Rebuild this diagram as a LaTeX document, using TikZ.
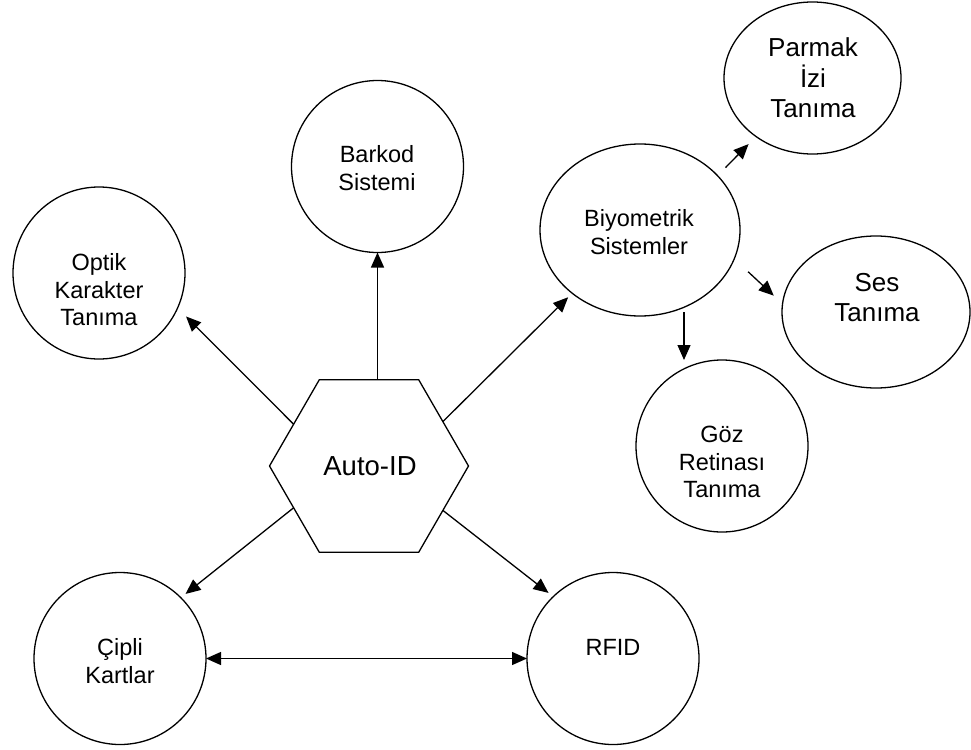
\documentclass[tikz,border=0pt]{standalone}
\usepackage{fontspec}
\setmainfont{Liberation Sans}
\usetikzlibrary{shapes.geometric,arrows.meta}
\begin{document}
\begin{tikzpicture}[x=1pt,y=-1pt,
  every node/.style={inner sep=0pt,outer sep=0pt},
  bub/.style={draw,line width=1.3pt,circle,minimum size=172pt},
  ell/.style={draw,line width=1.3pt,ellipse},
  hexa/.style={draw,line width=1.3pt,regular polygon,regular polygon sides=6,minimum size=199pt},
  lbl/.style={align=center,font=\fontsize{23.5}{27.5}\selectfont},
  lblbig/.style={align=center,font=\fontsize{26}{30.5}\selectfont},
  lblhex/.style={font=\fontsize{27.5}{32}\selectfont},
  arr/.style={line width=1.3pt,-{Triangle[length=15pt,width=13pt]}},
  darr/.style={line width=1.3pt,{Triangle[length=15pt,width=13pt]}-{Triangle[length=15pt,width=13pt]}}]
\useasboundingbox (0,0) rectangle (971,749);

% nodes
\node[hexa] (hex) at (369,466) {};
\node[lblhex] (tauto) at (370,466) {Auto-ID};

\node[bub] (optik) at (99,273) {};
\node[lbl] (toptik) at (99,290) {Optik\\Karakter\\Tanıma};

\node[bub] (barkod) at (377.5,166.5) {};
\node[lbl] (tbarkod) at (377,168) {Barkod\\Sistemi};

\node[ell,minimum width=200pt,minimum height=172pt] (biyo) at (640,230) {};
\node[lbl] (tbiyo) at (639,232) {Biyometrik\\Sistemler};

\node[ell,minimum width=177pt,minimum height=152pt] (parmak) at (812.5,78) {};
\node[lblbig] (tparmak) at (813,78) {Parmak\\İzi\\Tanıma};

\node[ell,minimum width=188pt,minimum height=152pt] (ses) at (876,312) {};
\node[lblbig] (tses) at (877,297.5) {Ses\\Tanıma};

\node[bub] (goz) at (722,446) {};
\node[lbl] (tgoz) at (722,462) {Göz\\Retinası\\Tanıma};

\node[bub] (cipli) at (120,658.5) {};
\node[lbl] (tcipli) at (120,661) {Çipli\\Kartlar};

\node[bub] (rfid) at (613,658.5) {};
\node[lbl] (trfid) at (613,647) {RFID};

% connectors
\draw[arr,shorten >=12pt] (hex.151) -- (optik.-24);
\draw[arr] (barkod.south |- hex.90) -- (barkod.south);
\draw[arr,shorten >=5.7pt] (hex.31) -- (biyo.223);
\draw[arr,shorten >=6pt] (hex.209) -- (cipli.45.5);
\draw[arr,shorten >=6pt] (hex.-31) -- (rfid.134.5);
\draw[darr] (cipli.east) -- (rfid.west);
\draw[arr,shorten <=11.3pt,shorten >=10.6pt] (biyo.35.5) -- (parmak.226);
\draw[arr,shorten <=19pt,shorten >=12pt] (biyo.-17) -- (ses.175.2);
\draw[arr] ([xshift=-38pt,yshift=4pt]goz.north |- biyo.south) -- ([xshift=-38pt]goz.north);
\end{tikzpicture}
\end{document}
